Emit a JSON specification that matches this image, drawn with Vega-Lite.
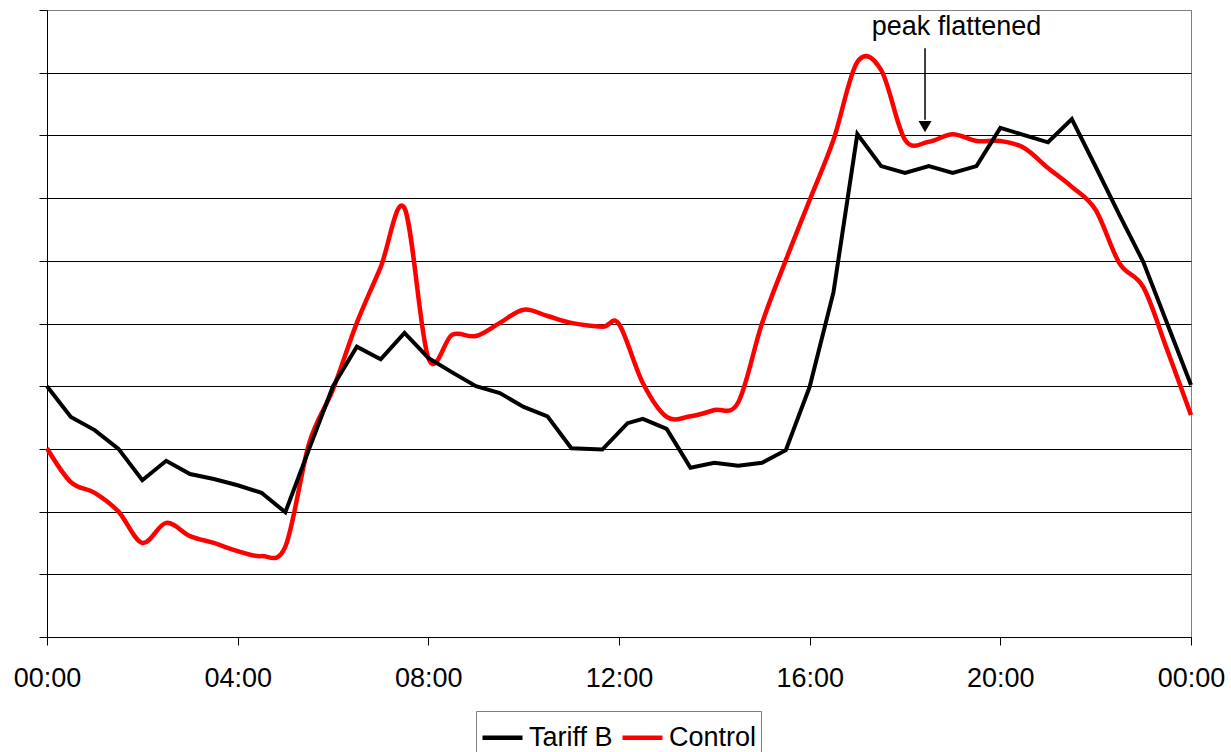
{
  "$schema": "https://vega.github.io/schema/vega-lite/v6.json",
  "width": 1144,
  "height": 627,
  "autosize": {"type": "none"},
  "padding": {"left": 47, "top": 10, "right": 40, "bottom": 115},
  "background": "white",
  "config": {
    "font": "Liberation Sans",
    "view": {"stroke": "#808080", "strokeWidth": 1}
  },
  "data": {
    "values": [
      {"series": "Tariff B", "hour": 0, "load": 4.0},
      {"series": "Tariff B", "hour": 0.5, "load": 3.51},
      {"series": "Tariff B", "hour": 1, "load": 3.3},
      {"series": "Tariff B", "hour": 1.5, "load": 3.0},
      {"series": "Tariff B", "hour": 2, "load": 2.5},
      {"series": "Tariff B", "hour": 2.5, "load": 2.81},
      {"series": "Tariff B", "hour": 3, "load": 2.6},
      {"series": "Tariff B", "hour": 3.5, "load": 2.52},
      {"series": "Tariff B", "hour": 4, "load": 2.42},
      {"series": "Tariff B", "hour": 4.5, "load": 2.3},
      {"series": "Tariff B", "hour": 5, "load": 1.99},
      {"series": "Tariff B", "hour": 5.5, "load": 3.0},
      {"series": "Tariff B", "hour": 6, "load": 4.0},
      {"series": "Tariff B", "hour": 6.5, "load": 4.63},
      {"series": "Tariff B", "hour": 7, "load": 4.43},
      {"series": "Tariff B", "hour": 7.5, "load": 4.85},
      {"series": "Tariff B", "hour": 8, "load": 4.45},
      {"series": "Tariff B", "hour": 8.5, "load": 4.22},
      {"series": "Tariff B", "hour": 9, "load": 4.0},
      {"series": "Tariff B", "hour": 9.5, "load": 3.89},
      {"series": "Tariff B", "hour": 10, "load": 3.67},
      {"series": "Tariff B", "hour": 10.5, "load": 3.52},
      {"series": "Tariff B", "hour": 11, "load": 3.01},
      {"series": "Tariff B", "hour": 11.65, "load": 2.99},
      {"series": "Tariff B", "hour": 12.18, "load": 3.41},
      {"series": "Tariff B", "hour": 12.5, "load": 3.48},
      {"series": "Tariff B", "hour": 13, "load": 3.32},
      {"series": "Tariff B", "hour": 13.5, "load": 2.7},
      {"series": "Tariff B", "hour": 14, "load": 2.78},
      {"series": "Tariff B", "hour": 14.5, "load": 2.73},
      {"series": "Tariff B", "hour": 15, "load": 2.78},
      {"series": "Tariff B", "hour": 15.5, "load": 2.98},
      {"series": "Tariff B", "hour": 16, "load": 3.99},
      {"series": "Tariff B", "hour": 16.5, "load": 5.5},
      {"series": "Tariff B", "hour": 17, "load": 8.02},
      {"series": "Tariff B", "hour": 17.5, "load": 7.51},
      {"series": "Tariff B", "hour": 18, "load": 7.4},
      {"series": "Tariff B", "hour": 18.5, "load": 7.51},
      {"series": "Tariff B", "hour": 19, "load": 7.4},
      {"series": "Tariff B", "hour": 19.5, "load": 7.51},
      {"series": "Tariff B", "hour": 20, "load": 8.12},
      {"series": "Tariff B", "hour": 21, "load": 7.89},
      {"series": "Tariff B", "hour": 21.5, "load": 8.26},
      {"series": "Tariff B", "hour": 22, "load": 7.5},
      {"series": "Tariff B", "hour": 22.5, "load": 6.73},
      {"series": "Tariff B", "hour": 23, "load": 5.98},
      {"series": "Tariff B", "hour": 23.5, "load": 5.0},
      {"series": "Tariff B", "hour": 24, "load": 4.02},
      {"series": "Control", "hour": 0, "load": 3.01},
      {"series": "Control", "hour": 0.5, "load": 2.47},
      {"series": "Control", "hour": 1, "load": 2.3},
      {"series": "Control", "hour": 1.5, "load": 2.0},
      {"series": "Control", "hour": 2, "load": 1.5},
      {"series": "Control", "hour": 2.5, "load": 1.82},
      {"series": "Control", "hour": 3, "load": 1.61},
      {"series": "Control", "hour": 3.5, "load": 1.5},
      {"series": "Control", "hour": 4, "load": 1.37},
      {"series": "Control", "hour": 4.5, "load": 1.29},
      {"series": "Control", "hour": 5, "load": 1.44},
      {"series": "Control", "hour": 5.5, "load": 3.09},
      {"series": "Control", "hour": 6, "load": 3.95},
      {"series": "Control", "hour": 6.5, "load": 5.01},
      {"series": "Control", "hour": 7, "load": 5.9},
      {"series": "Control", "hour": 7.5, "load": 6.84},
      {"series": "Control", "hour": 8, "load": 4.45},
      {"series": "Control", "hour": 8.5, "load": 4.82},
      {"series": "Control", "hour": 9, "load": 4.8},
      {"series": "Control", "hour": 9.5, "load": 5.01},
      {"series": "Control", "hour": 10, "load": 5.22},
      {"series": "Control", "hour": 10.5, "load": 5.12},
      {"series": "Control", "hour": 11, "load": 5.01},
      {"series": "Control", "hour": 11.66, "load": 4.95},
      {"series": "Control", "hour": 12, "load": 4.99},
      {"series": "Control", "hour": 12.5, "load": 4.05},
      {"series": "Control", "hour": 13, "load": 3.51},
      {"series": "Control", "hour": 13.5, "load": 3.52},
      {"series": "Control", "hour": 14, "load": 3.62},
      {"series": "Control", "hour": 14.5, "load": 3.74},
      {"series": "Control", "hour": 15, "load": 5.0},
      {"series": "Control", "hour": 15.5, "load": 6.01},
      {"series": "Control", "hour": 16, "load": 6.97},
      {"series": "Control", "hour": 16.5, "load": 7.93},
      {"series": "Control", "hour": 17, "load": 9.17},
      {"series": "Control", "hour": 17.5, "load": 9.04},
      {"series": "Control", "hour": 18, "load": 7.93},
      {"series": "Control", "hour": 18.5, "load": 7.9},
      {"series": "Control", "hour": 19, "load": 8.02},
      {"series": "Control", "hour": 19.5, "load": 7.91},
      {"series": "Control", "hour": 20, "load": 7.91},
      {"series": "Control", "hour": 20.5, "load": 7.8},
      {"series": "Control", "hour": 21, "load": 7.48},
      {"series": "Control", "hour": 21.5, "load": 7.18},
      {"series": "Control", "hour": 22, "load": 6.81},
      {"series": "Control", "hour": 22.5, "load": 5.96},
      {"series": "Control", "hour": 23, "load": 5.58},
      {"series": "Control", "hour": 23.5, "load": 4.58},
      {"series": "Control", "hour": 24, "load": 3.54}
    ]
  },
  "encoding": {
    "x": {
      "field": "hour",
      "type": "quantitative",
      "scale": {"domain": [0, 24], "nice": false, "zero": false},
      "axis": {
        "title": null,
        "values": [0, 4, 8, 12, 16, 20, 24],
        "labelExpr": "(datum.value % 24 < 10 ? '0' : '') + (datum.value % 24) + ':00'",
        "labelFontSize": 27,
        "labelFont": "Liberation Sans",
        "labelColor": "#000000",
        "labelPadding": 20,
        "tickSize": 8,
        "tickColor": "#000000",
        "tickWidth": 1,
        "domainColor": "#000000",
        "domainWidth": 1,
        "grid": false,
        "labelFlush": false,
        "labelOverlap": false
      }
    },
    "y": {
      "field": "load",
      "type": "quantitative",
      "scale": {"domain": [0, 10], "nice": false},
      "axis": {
        "title": null,
        "labels": false,
        "values": [0, 1, 2, 3, 4, 5, 6, 7, 8, 9, 10],
        "tickSize": 8,
        "tickColor": "#000000",
        "tickWidth": 1,
        "domainColor": "#000000",
        "domainWidth": 1,
        "grid": true,
        "gridColor": {"condition": {"test": "datum.value == 10", "value": "#808080"}, "value": "#000000"},
        "gridWidth": 1,
        "gridOpacity": 1
      }
    }
  },
  "layer": [
    {
      "transform": [{"filter": "datum.series == 'Control'"}],
      "mark": {"type": "line", "interpolate": "cardinal", "strokeWidth": 4.5},
      "encoding": {
        "color": {
          "field": "series",
          "type": "nominal",
          "scale": {"domain": ["Tariff B", "Control"], "range": ["#000000", "#ff0000"]},
          "legend": {
            "title": null,
            "orient": "none",
            "legendX": 429,
            "legendY": 701,
            "direction": "horizontal",
            "columns": 2,
            "symbolType": "stroke",
            "symbolSize": 1600,
            "symbolStrokeWidth": 4.5,
            "labelFontSize": 27,
            "labelFont": "Liberation Sans",
            "labelColor": "#000000",
            "labelOffset": 4,
            "columnPadding": 0,
            "padding": 4,
            "strokeColor": "#808080",
            "fillColor": "#ffffff",
            "labelLimit": 300
          }
        }
      }
    },
    {
      "transform": [{"filter": "datum.series == 'Tariff B'"}],
      "mark": {"type": "line", "interpolate": "linear", "strokeWidth": 4},
      "encoding": {
        "color": {"field": "series", "type": "nominal"}
      }
    },
    {
      "data": {"values": [{"hour": 18.42, "top": 9.39, "bottom": 8.25}]},
      "mark": {"type": "rule", "color": "#000000", "strokeWidth": 1.5},
      "encoding": {
        "x": {"field": "hour", "type": "quantitative"},
        "y": {"field": "top", "type": "quantitative"},
        "y2": {"field": "bottom"}
      }
    },
    {
      "data": {"values": [{"hour": 18.42, "tip": 8.14}]},
      "mark": {"type": "point", "shape": "triangle-down", "filled": true, "color": "#000000", "size": 170, "opacity": 1},
      "encoding": {
        "x": {"field": "hour", "type": "quantitative"},
        "y": {"field": "tip", "type": "quantitative"}
      }
    },
    {
      "data": {"values": [{"hour": 19.08, "pos": 9.6, "label": "peak flattened"}]},
      "mark": {"type": "text", "font": "Liberation Sans", "fontSize": 27, "color": "#000000", "align": "center", "baseline": "alphabetic"},
      "encoding": {
        "x": {"field": "hour", "type": "quantitative"},
        "y": {"field": "pos", "type": "quantitative"},
        "text": {"field": "label"}
      }
    }
  ]
}
